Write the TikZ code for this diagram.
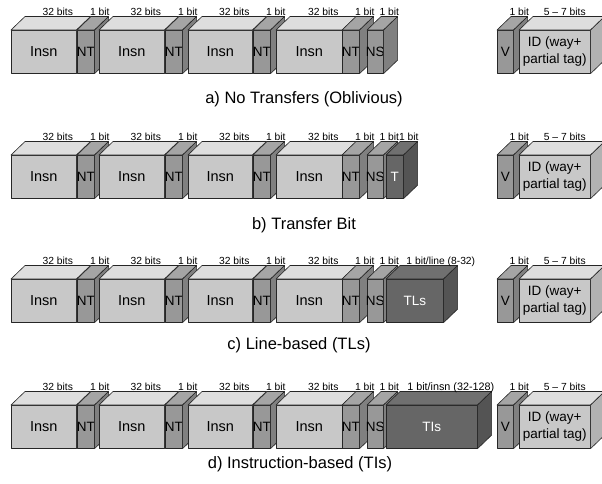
\documentclass[tikz,border=0pt]{standalone}
\usepackage{fontspec}
\setmainfont{Liberation Sans}
\definecolor{lfront}{RGB}{200,200,200}
\definecolor{ltop}{RGB}{222,222,222}
\definecolor{lside}{RGB}{178,178,178}
\definecolor{mfront}{RGB}{152,152,152}
\definecolor{mtop}{RGB}{165,165,165}
\definecolor{mside}{RGB}{128,128,128}
\definecolor{dfront}{RGB}{102,102,102}
\definecolor{dtop}{RGB}{112,112,112}
\definecolor{dside}{RGB}{84,84,84}
\newcommand{\cube}[6]{%
  \node[box, fill=#5front, minimum width=#4pt, anchor=north west] (#1) at (#2,#3) {\makebox[0pt]{#6}};
  \filldraw[fill=#5top, edge] (#1.north west) -- ++(14,-13.5) -- ([shift={(14,-13.5)}]#1.north east) -- (#1.north east) -- cycle;
  \filldraw[fill=#5side, edge] (#1.north east) -- ++(14,-13.5) -- ([shift={(14,-13.5)}]#1.south east) -- (#1.south east) -- cycle;
}
\newcommand{\bitlab}[3]{%
  \node[bitlabel] (#1) at ([shift={(14,-15)}]#2.north) {#3};
}
\begin{document}
\begin{tikzpicture}[x=1pt,y=-1pt,
  edge/.style={draw=black!85, line width=0.6pt, line join=round},
  box/.style={edge, rectangle, inner sep=0pt, minimum height=43pt, font=\fontsize{13.5}{16}\selectfont},
  bitlabel/.style={anchor=base, inner sep=0pt, font=\fontsize{10.3}{12}\selectfont},
  caption/.style={anchor=base, inner sep=0pt, font=\fontsize{16.5}{19}\selectfont}]
\useasboundingbox (0,0) rectangle (602,483);
\foreach \r/\y in {a/30,b/155,c/279,d/405} {
  \cube{i1\r}{11}{\y}{65}{l}{\fontsize{14.5}{16}\selectfont Insn}
  \cube{n1\r}{77}{\y}{17}{m}{NT}
  \cube{i2\r}{99}{\y}{65}{l}{\fontsize{14.5}{16}\selectfont Insn}
  \cube{n2\r}{165}{\y}{17}{m}{NT}
  \cube{i3\r}{188}{\y}{64}{l}{\fontsize{14.5}{16}\selectfont Insn}
  \cube{n3\r}{253}{\y}{17}{m}{NT}
  \cube{i4\r}{276}{\y}{66}{l}{\fontsize{14.5}{16}\selectfont Insn}
  \cube{n4\r}{342}{\y}{17}{m}{NT}
  \cube{ns\r}{367}{\y}{16}{m}{NS}
  \cube{v\r}{497}{\y}{16}{m}{V}
  \cube{id\r}{519}{\y}{71}{l}{\begin{tabular}{@{}c@{}}ID (way+\\[1pt]partial tag)\end{tabular}}
}
\cube{tb}{386}{155}{17}{d}{\color{white}T}
\cube{tlc}{386}{279}{57}{d}{\color{white}TLs}
\cube{tid}{386}{405}{91}{d}{\color{white}TIs}
\foreach \r in {a,b,c,d} {
  \bitlab{l1\r}{i1\r}{32 bits}
  \bitlab{l2\r}{n1\r}{1 bit}
  \bitlab{l3\r}{i2\r}{32 bits}
  \bitlab{l4\r}{n2\r}{1 bit}
  \bitlab{l5\r}{i3\r}{32 bits}
  \bitlab{l6\r}{n3\r}{1 bit}
  \bitlab{l7\r}{i4\r}{32 bits}
  \bitlab{l8\r}{n4\r}{1 bit}
  \bitlab{l9\r}{ns\r}{1 bit}
  \bitlab{lv\r}{v\r}{1 bit}
  \node[bitlabel] (lid\r) at ([shift={(10,-15)}]id\r.north) {5 -- 7 bits};
}
\bitlab{ltb}{tb}{1 bit}
\node[bitlabel] (ltlc) at ([shift={(26,-15)}]tlc.north) {1 bit/line (8-32)};
\node[bitlabel, font=\fontsize{10.8}{12}\selectfont] (ltid) at ([shift={(19,-15)}]tid.north) {1 bit/insn (32-128)};
\node[caption] (capa) at (304,103.5) {a) No Transfers (Oblivious)};
\node[caption] (capb) at (304,229) {b) Transfer Bit};
\node[caption] (capc) at (299,349) {c) Line-based (TLs)};
\node[caption] (capd) at (300,468) {d) Instruction-based (TIs)};
\end{tikzpicture}
\end{document}
